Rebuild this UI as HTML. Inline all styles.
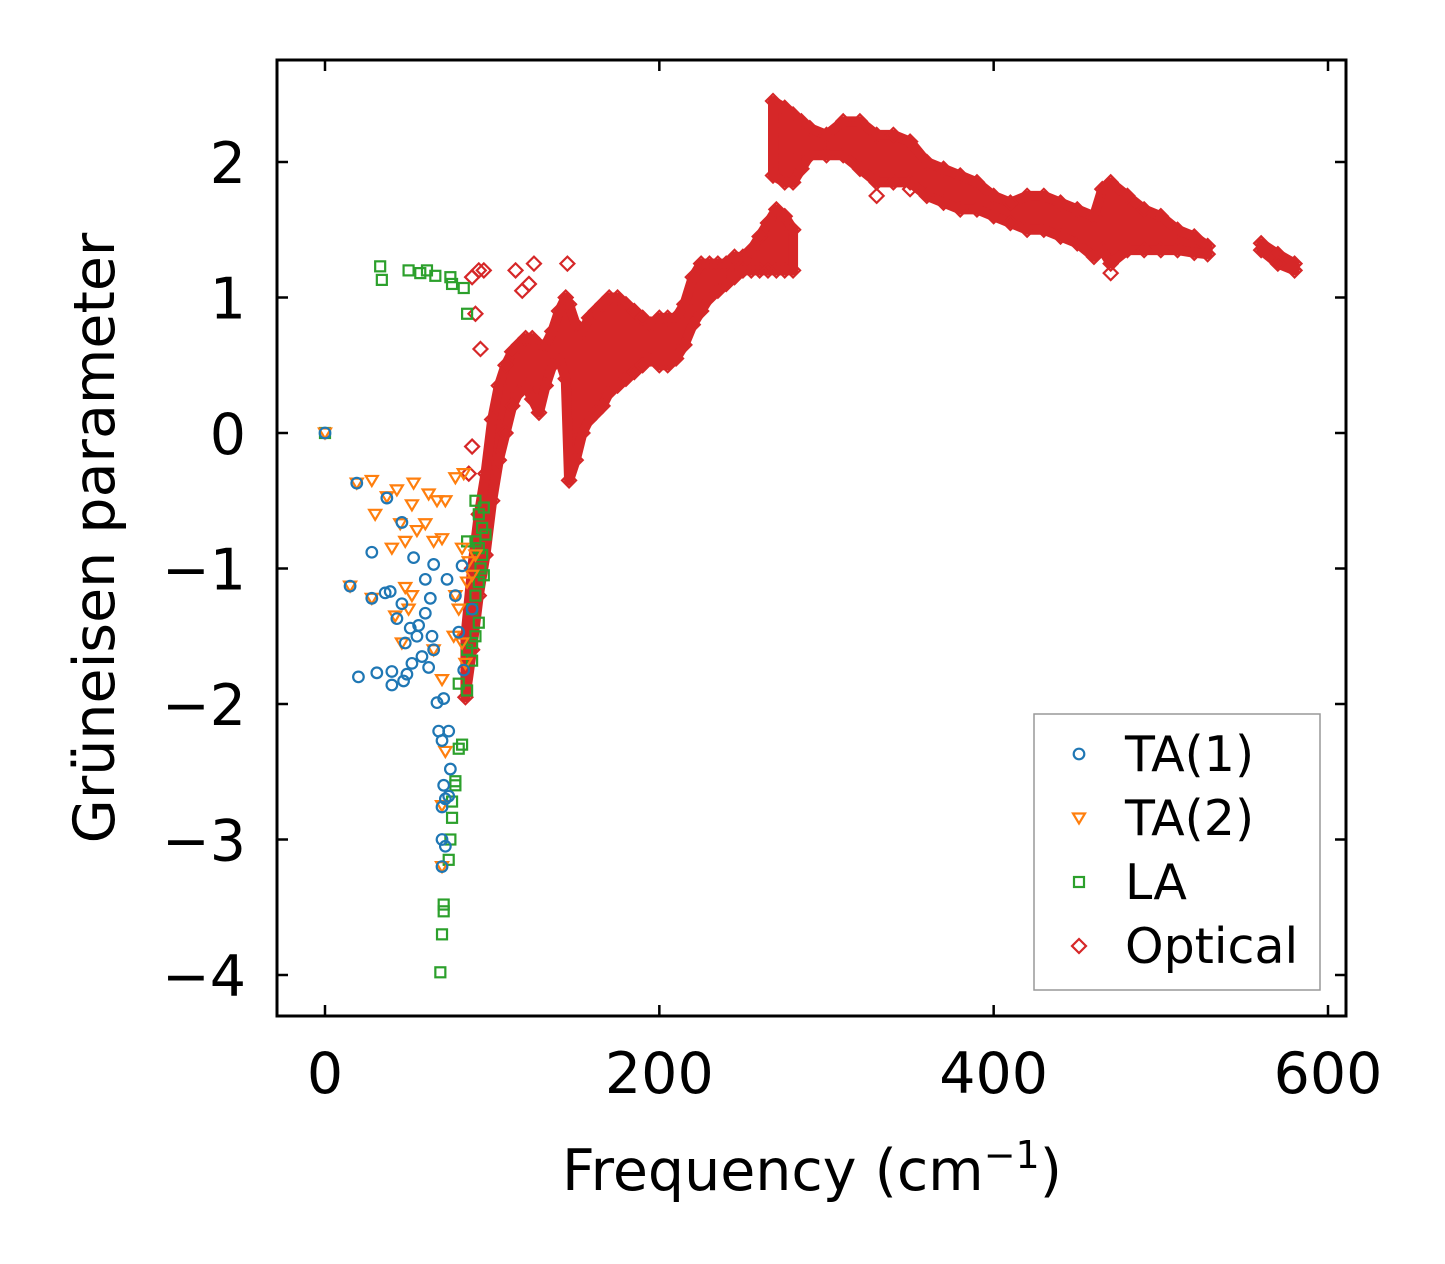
<!DOCTYPE html>
<html><head><meta charset="utf-8"><style>
html,body{margin:0;padding:0;background:#fff;}
svg{display:block;font-family:"DejaVu Sans","Liberation Sans",sans-serif;}
</style></head><body>
<svg id="chart" width="1445" height="1264" viewBox="0 0 1445 1264" xmlns="http://www.w3.org/2000/svg">
<rect x="0" y="0" width="1445" height="1264" fill="#fff"/>
<g id="bands"></g>
<g id="marks"></g>
<g id="axes"></g>
<text x="812" y="1190" font-size="57" text-anchor="middle">Frequency (cm<tspan font-size="38" dy="-22">−1</tspan><tspan dy="22">)</tspan></text>
<text transform="translate(114,538) rotate(-90)" font-size="57" text-anchor="middle">Grüneisen parameter</text>
<g>
<rect x="1034" y="714" width="286" height="276" fill="#fff" stroke="#999" stroke-width="1.5"/>
<g id="legend"></g>
</g>
</svg>
<script>
// ---- data ----
const xTicks=[0,200,400,600];
const yTicks=[2,1,0,-1,-2,-3,-4];
const yTickLabels=["2","1","0","−1","−2","−3","−4"];
const ta1X=[0,19,37,46,28,53,15,28,36,39,46,43,51,55,60,63,60,65,73,78,80,20,31,40,40,47,49,52,58,62,65,67,71,68,70,74,75,71,72,70,74,70,72,70,83,88,82,56,64,48];
const ta1Y=[0,-0.37,-0.48,-0.66,-0.88,-0.92,-1.13,-1.22,-1.18,-1.17,-1.26,-1.37,-1.44,-1.5,-1.33,-1.22,-1.08,-0.97,-1.08,-1.2,-1.47,-1.8,-1.77,-1.86,-1.76,-1.83,-1.78,-1.7,-1.65,-1.73,-1.6,-1.99,-1.96,-2.2,-2.27,-2.2,-2.48,-2.6,-2.7,-2.76,-2.68,-3.0,-3.05,-3.2,-1.75,-1.3,-0.98,-1.42,-1.5,-1.55];
const ta2X=[0,19,28,30,37,43,53,52,45,55,60,62,67,72,78,83,40,48,65,70,82,86,48,52,50,15,28,42,46,78,80,82,84,77,85,88,90,65,70,72,70,70];
const ta2Y=[0,-0.37,-0.35,-0.6,-0.47,-0.42,-0.37,-0.53,-0.67,-0.72,-0.67,-0.45,-0.5,-0.5,-0.33,-0.3,-0.85,-0.8,-0.8,-0.78,-0.85,-0.95,-1.14,-1.2,-1.3,-1.13,-1.22,-1.35,-1.55,-1.2,-1.3,-1.55,-1.7,-1.5,-1.1,-1.05,-0.9,-1.6,-1.82,-2.35,-2.75,-3.2];
const laX=[0,33,34,50,57,61,66,75,76,83,85,90,92,95,94,90,92,96,85,93,95,90,88,92,90,88,85,88,80,85,82,80,78,78,76,76,75,74,71,71,70,69,92,94];
const laY=[0,1.23,1.13,1.2,1.18,1.2,1.16,1.15,1.1,1.07,0.88,-0.5,-0.6,-0.55,-0.7,-0.8,-0.85,-0.75,-0.8,-1.0,-1.05,-1.2,-1.3,-1.4,-1.5,-1.55,-1.6,-1.68,-1.85,-1.9,-2.3,-2.33,-2.57,-2.6,-2.72,-2.84,-3.0,-3.15,-3.48,-3.53,-3.7,-3.98,-1.1,-0.9];
const optFreq=[84,88,92,96,100,104,108,112,116,120,124,128,132,136,140,144,146,150,154,158,162,166,170,175,180,185,190,195,200,205,210,215,220,225,230,235,240,245,250,255,260,265,270,275,280,
268,275,280,285,290,300,310,320,330,340,350,360,370,380,390,400,410,420,430,440,450,460,465,470,480,490,500,510,520,528,
560,570,580];
const optHi=[-1.5,-1.0,-0.6,-0.3,0.1,0.35,0.5,0.6,0.65,0.7,0.7,0.65,0.65,0.75,0.9,1.0,0.95,0.8,0.75,0.85,0.9,0.95,1.0,1.0,0.95,0.9,0.85,0.8,0.85,0.85,0.85,0.95,1.15,1.25,1.25,1.25,1.25,1.3,1.3,1.35,1.45,1.55,1.65,1.6,1.5,
2.45,2.4,2.35,2.3,2.25,2.2,2.3,2.3,2.2,2.2,2.15,2.0,1.95,1.9,1.85,1.75,1.7,1.75,1.75,1.7,1.65,1.6,1.8,1.85,1.75,1.65,1.6,1.5,1.45,1.38,
1.4,1.32,1.25];
const optLo=[-1.95,-1.6,-1.2,-0.9,-0.5,-0.2,0.0,0.2,0.3,0.35,0.25,0.15,0.35,0.5,0.55,0.4,-0.35,-0.2,0.0,0.1,0.15,0.2,0.3,0.35,0.4,0.45,0.5,0.55,0.5,0.5,0.55,0.65,0.8,0.9,1.0,1.05,1.1,1.15,1.2,1.2,1.2,1.2,1.2,1.2,1.2,
1.9,1.85,1.85,1.95,2.05,2.05,2.05,1.95,1.85,1.85,1.85,1.75,1.7,1.65,1.65,1.6,1.55,1.5,1.5,1.45,1.4,1.3,1.35,1.25,1.35,1.35,1.35,1.35,1.33,1.32,
1.35,1.25,1.2];
const optSeg=[0,0,0,0,0,0,0,0,0,0,0,0,0,0,0,0,0,0,0,0,0,0,0,0,0,0,0,0,0,0,0,0,0,0,0,0,0,0,0,0,0,0,0,0,0,
1,1,1,1,1,1,1,1,1,1,1,1,1,1,1,1,1,1,1,1,1,1,1,1,1,1,1,1,1,1,
2,2,2];
const outX=[92,88,95,90,93,88,86,114,125,145,280,330,350,470,280,118,122];
const outY=[1.2,1.15,1.2,0.88,0.62,-0.1,-0.3,1.2,1.25,1.25,1.5,1.75,1.8,1.18,2.0,1.05,1.1];

// ---- scales ----
const X0=277,X1=1346,Y0=60,Y1=1016;
const sx=v=>325+v*(1328-325)/600;
const sy=v=>433-v*(433-162)/2;
const NS="http://www.w3.org/2000/svg";
const C={b:"#1f77b4",o:"#ff7f0e",g:"#2ca02c",r:"#d62728"};
function mk(tag,attrs,parent){const e=document.createElementNS(NS,tag);for(const k in attrs)e.setAttribute(k,attrs[k]);parent.appendChild(e);return e;}
const marks=document.getElementById('marks'),bands=document.getElementById('bands'),axes=document.getElementById('axes');

function circle(x,y,col,p){return mk('circle',{cx:x,cy:y,r:5.3,fill:'none',stroke:col,'stroke-width':2.2},p);}
function tri(x,y,col,p){return mk('polygon',{points:`${x-6},${y-4.5} ${x+6},${y-4.5} ${x},${y+5.5}`,fill:'none',stroke:col,'stroke-width':2.2},p);}
function sq(x,y,col,p){return mk('rect',{x:x-5,y:y-5,width:10,height:10,fill:'none',stroke:col,'stroke-width':2.2},p);}
function dia(x,y,col,p){return mk('polygon',{points:`${x},${y-7} ${x+7},${y} ${x},${y+7} ${x-7},${y}`,fill:'none',stroke:col,'stroke-width':2.2},p);}

for(let s=0;s<3;s++){
  const idx=optFreq.map((f,i)=>i).filter(i=>optSeg[i]===s);
  let pts=idx.map(i=>`${sx(optFreq[i])},${sy(optHi[i])}`).concat(idx.slice().reverse().map(i=>`${sx(optFreq[i])},${sy(optLo[i])}`));
  const p=mk('polygon',{points:pts.join(' '),fill:C.r,stroke:C.r,'stroke-width':10,'stroke-linejoin':'round'},bands);
  
  
}
optFreq.forEach((f,i)=>{
  const a=dia(sx(f),sy(optHi[i]),C.r,marks);
  
  
  const b=dia(sx(f),sy(optLo[i]),C.r,marks);
  
  
});
outX.forEach((f,i)=>{
  const a=dia(sx(f),sy(outY[i]),C.r,marks);
  
  
});
laX.forEach((f,i)=>{
  const a=sq(sx(f),sy(laY[i]),C.g,marks);
  
  
});
ta2X.forEach((f,i)=>{
  const a=tri(sx(f),sy(ta2Y[i]),C.o,marks);
  
  
});
ta1X.forEach((f,i)=>{
  const a=circle(sx(f),sy(ta1Y[i]),C.b,marks);
  
  
});

const fr=mk('rect',{x:X0,y:Y0,width:X1-X0,height:Y1-Y0,fill:'none',stroke:'#000','stroke-width':3},axes);


xTicks.forEach(v=>{
  const x=sx(v);
  mk('line',{x1:x,y1:Y1,x2:x,y2:Y1-11,stroke:'#000','stroke-width':2.5},axes);
  mk('line',{x1:x,y1:Y0,x2:x,y2:Y0+11,stroke:'#000','stroke-width':2.5},axes);
  const t=mk('text',{x:x,y:1093,'font-size':57,'text-anchor':'middle'},axes);
  t.textContent=String(v);
  
  
});
yTicks.forEach((v,i)=>{
  const y=sy(v);
  mk('line',{x1:X0,y1:y,x2:X0+11,y2:y,stroke:'#000','stroke-width':2.5},axes);
  mk('line',{x1:X1,y1:y,x2:X1-11,y2:y,stroke:'#000','stroke-width':2.5},axes);
  const t=mk('text',{x:246,y:y+21,'font-size':57,'text-anchor':'end'},axes);
  t.textContent=yTickLabels[i];
  
  
});

const lg=document.getElementById('legend');
const lgNames=["TA(1)","TA(2)","LA","Optical"];
const lgFns=[circle,tri,sq,dia];
const lgCols=[C.b,C.o,C.g,C.r];
lgNames.forEach((n,i)=>{
  const y=754+i*64;
  const m=lgFns[i](1079,y,lgCols[i],lg);
  
  
  const t=mk('text',{x:1125,y:y+17,'font-size':49},lg);
  t.textContent=n;
  
  
});
</script>
</body></html>
